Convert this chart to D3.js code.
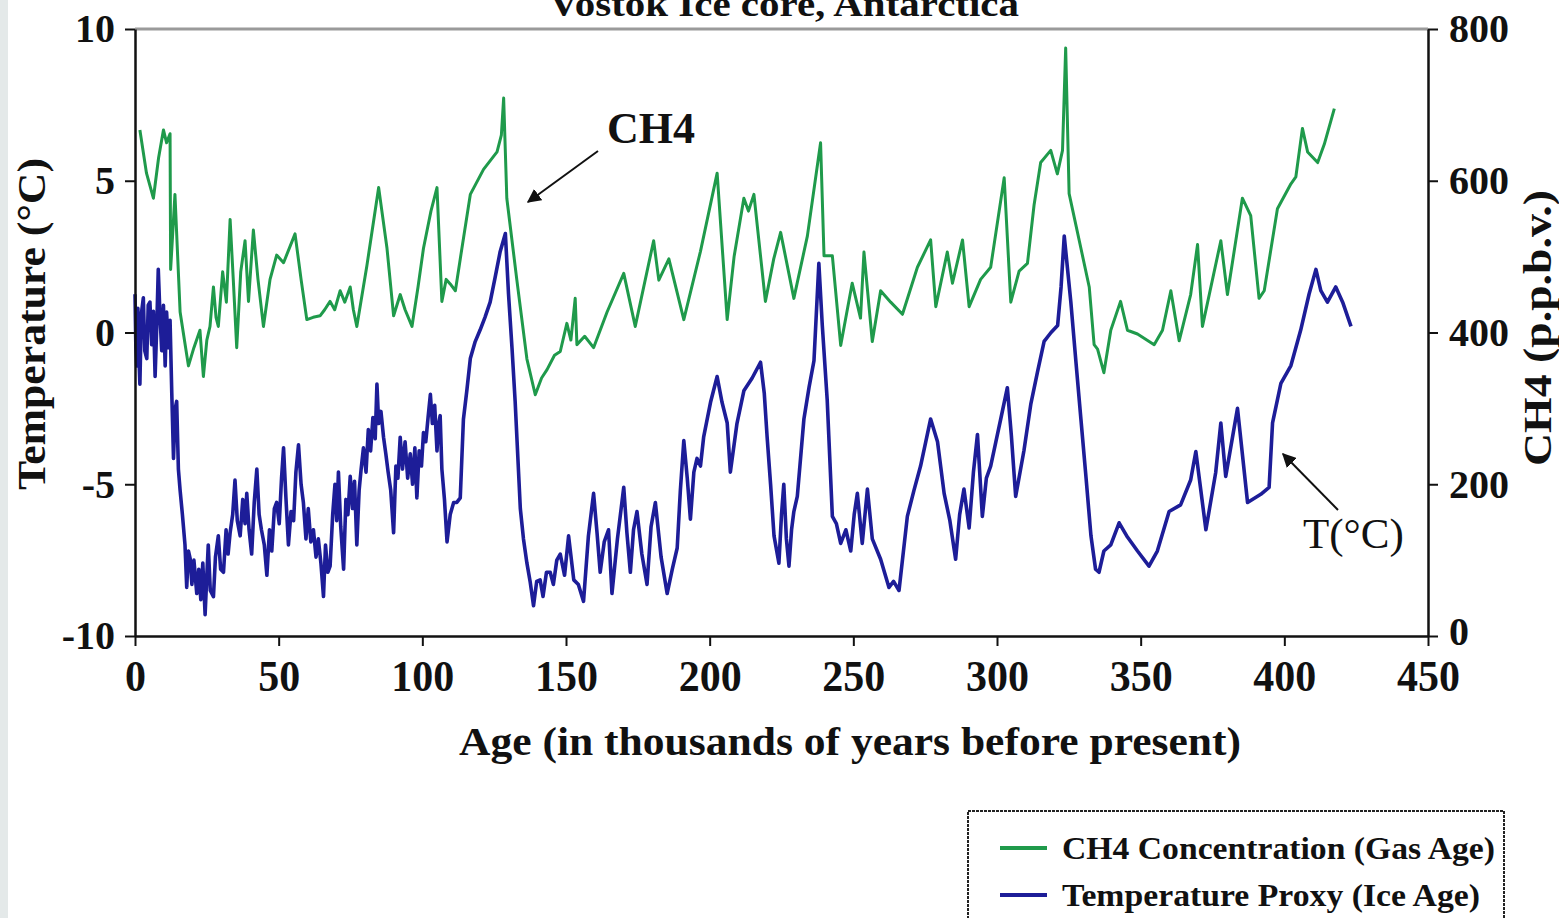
<!DOCTYPE html>
<html>
<head>
<meta charset="utf-8">
<title>Vostok Ice core, Antarctica</title>
<script src="https://cdnjs.cloudflare.com/ajax/libs/d3/7.8.5/d3.min.js"></script>
<style>
    body { margin: 0; background: #fff; }
    svg { display: block; }
    text { font-family: "Liberation Serif", "Times New Roman", serif; font-weight: bold; fill: #111; }
</style>
</head>
<body>
<svg id="chart" width="1559" height="918"></svg>
<script>
// ages in thousands of years, temperature anomaly in °C (ice age)
const tempSeries = [
    [0,1.26],[0.3,-0.5],[0.6,-1.1],[1.0,0.8],[1.4,-0.9],[1.7,-1.7],[2.2,0.6],[2.9,1.14],[3.4,-0.6],[4.1,-0.86],
    [4.6,0.9],[5.2,1.0],[5.8,-0.4],[6.4,0.7],[7.0,-1.45],[7.6,0.3],[8.1,2.08],[8.7,0.55],[9.3,-0.6],[9.9,0.9],
    [10.5,-1.1],[11.0,0.67],[11.6,-0.5],[12.2,0.4],[12.8,-2.0],[13.4,-4.15],[14.0,-2.5],[14.5,-2.27],[15.1,-4.5],[15.7,-5.2],
    [16.5,-6.0],[17.4,-7.0],[18.0,-8.4],[18.6,-7.2],[19.2,-7.45],[19.8,-8.3],[20.5,-7.5],[21.5,-8.6],[22.2,-7.8],[22.9,-8.8],
    [23.6,-7.6],[24.4,-9.3],[25.0,-8.0],[25.5,-7.0],[26.2,-8.5],[27.3,-8.7],[28.0,-7.4],[29.0,-6.7],[29.8,-7.8],[30.8,-7.9],
    [31.7,-6.5],[32.4,-7.3],[33.1,-6.6],[34.0,-6.0],[34.8,-4.86],[35.6,-6.2],[36.6,-6.7],[37.5,-5.5],[38.3,-6.3],[38.9,-5.3],
    [39.7,-6.5],[40.6,-7.3],[41.5,-5.6],[42.4,-4.5],[43.2,-6.0],[44.0,-6.5],[45.0,-7.0],[45.9,-8.0],[46.8,-6.5],[47.6,-7.2],
    [48.5,-5.8],[49.3,-5.6],[50.2,-6.3],[51.0,-4.8],[51.7,-3.8],[52.5,-5.4],[53.4,-7.0],[54.3,-5.9],[55.2,-6.2],[56.0,-4.6],
    [56.9,-3.7],[57.8,-5.0],[58.6,-5.6],[59.5,-6.8],[60.3,-5.8],[61.2,-6.9],[62.1,-6.5],[63.0,-7.4],[63.8,-6.8],[64.7,-7.6],
    [65.6,-8.7],[66.3,-7.0],[67.1,-7.9],[67.9,-7.7],[68.8,-6.0],[69.6,-5.0],[70.2,-6.2],[70.8,-4.6],[71.6,-6.4],[72.6,-7.8],
    [73.4,-5.5],[74.1,-6.0],[74.9,-4.74],[75.7,-5.8],[76.4,-4.9],[77.2,-7.0],[78.0,-5.2],[78.7,-4.5],[79.5,-3.8],[80.4,-4.6],
    [81.2,-3.2],[82.0,-3.9],[82.8,-2.8],[83.6,-3.5],[84.2,-1.7],[84.8,-3.0],[85.6,-2.6],[86.5,-3.45],[87.3,-4.0],[88.1,-4.6],
    [89.0,-5.2],[90.0,-6.6],[90.8,-4.4],[91.5,-4.8],[92.3,-3.45],[93.1,-4.5],[94.0,-3.6],[94.9,-4.8],[95.8,-4.0],[96.6,-5.0],
    [97.4,-3.8],[98.1,-5.45],[98.9,-3.9],[99.7,-4.4],[100.4,-3.3],[101.2,-3.6],[102.0,-2.8],[102.8,-2.04],[103.5,-3.0],[104.3,-2.4],
    [105.1,-3.9],[105.7,-3.0],[106.2,-2.74],[106.8,-4.5],[107.7,-5.5],[108.6,-6.9],[109.7,-6.0],[110.9,-5.6],[112.0,-5.6],[113.2,-5.45],
    [114.3,-2.86],[115.5,-1.9],[116.7,-0.86],[118.4,-0.3],[120.1,0.08],[121.8,0.5],[123.6,1.0],[125.3,1.8],[127.1,2.67],[128.9,3.26],
    [130.0,1.26],[131.2,-0.5],[132.3,-2.27],[134.1,-5.8],[135.2,-6.8],[136.4,-7.6],[137.5,-8.2],[138.7,-9.0],[139.8,-8.2],[141.0,-8.15],
    [142.0,-8.7],[143.2,-7.9],[144.5,-7.9],[145.6,-8.3],[146.8,-7.5],[148.0,-7.3],[149.5,-8.0],[150.9,-6.7],[152.7,-8.15],[154.3,-8.3],
    [156.1,-8.86],[157.8,-6.7],[159.6,-5.3],[160.8,-6.6],[161.9,-7.9],[163.3,-6.9],[164.8,-6.5],[166.0,-8.6],[167.9,-6.8],[170.1,-5.1],
    [171.2,-6.6],[172.4,-7.9],[173.5,-6.5],[174.7,-5.9],[176.4,-7.3],[178.2,-8.3],[179.6,-6.4],[181.1,-5.6],[183.1,-7.4],[185.2,-8.6],
    [187.0,-7.8],[188.7,-7.1],[189.8,-5.2],[191.0,-3.56],[192.2,-4.8],[193.3,-6.15],[194.5,-4.6],[195.6,-4.15],[196.8,-4.4],[197.9,-3.45],
    [200.3,-2.3],[202.6,-1.45],[204.3,-2.3],[206.1,-2.98],[207.2,-4.6],[209.5,-3.0],[211.9,-1.92],[214.8,-1.5],[217.7,-0.98],[219.0,-2.0],
    [220.0,-3.45],[221.2,-5.0],[222.4,-6.7],[224.1,-7.6],[225.0,-6.0],[225.8,-5.0],[226.7,-6.8],[227.6,-7.7],[228.5,-6.5],[229.3,-5.9],
    [230.5,-5.4],[232.8,-2.85],[234.6,-1.8],[236.3,-0.93],[238.0,2.28],[239.2,0.23],[240.9,-2.21],[242.7,-6.06],[244.1,-6.3],[245.6,-6.95],
    [247.4,-6.5],[249.1,-7.2],[250.3,-6.0],[251.4,-5.3],[253.1,-6.95],[254.9,-5.16],[256.6,-6.8],[259.5,-7.47],[262.4,-8.4],[264.0,-8.2],
    [265.9,-8.5],[268.8,-6.06],[271.1,-5.2],[273.4,-4.4],[275.2,-3.6],[276.9,-2.85],[279.3,-3.6],[281.6,-5.3],[283.6,-6.2],[285.6,-7.47],
    [287.0,-6.0],[288.5,-5.16],[290.3,-6.44],[291.8,-4.6],[293.2,-3.36],[294.9,-6.06],[296.3,-4.8],[297.8,-4.4],[299.6,-3.6],[301.3,-2.85],
    [303.6,-1.82],[305.0,-3.4],[306.5,-5.4],[309.4,-3.88],[311.8,-2.34],[314.1,-1.3],[316.4,-0.29],[318.8,0.0],[321.1,0.23],[322.3,1.5],
    [323.4,3.18],[325.7,1.0],[327.5,-1.0],[329.2,-2.85],[331.0,-4.8],[332.7,-6.7],[334.3,-7.8],[335.5,-7.9],[337.2,-7.2],[339.6,-7.0],
    [342.5,-6.27],[345.4,-6.74],[348.9,-7.2],[352.9,-7.7],[355.8,-7.2],[359.9,-5.9],[363.9,-5.68],[367.4,-4.86],[369.2,-3.92],[372.7,-6.5],
    [376.1,-4.62],[377.9,-2.98],[379.6,-4.74],[383.7,-2.5],[387.2,-5.6],[391.8,-5.33],[394.7,-5.1],[395.9,-2.98],[398.8,-1.68],[402.3,-1.09],
    [405.7,0.08],[408.6,1.26],[411.0,2.08],[412.7,1.38],[415.0,1.0],[417.9,1.5],[420.3,1.0],[423.2,0.2]
];

// ages in thousands of years, CH4 in p.p.b.v. (gas age)
const ch4Series = [
    [1.7,667],[4.0,610],[6.4,577],[8.2,630],[9.9,667],[11.0,650],[12.2,662],[12.4,483],[13.9,582],[15.7,427],
    [17.2,390],[18.6,356],[20.5,380],[22.6,403],[23.8,342],[25.0,390],[26.1,408],[27.3,460],[28.2,420],[29.0,408],
    [30.5,480],[31.8,440],[33.1,549],[34.2,470],[35.4,380],[36.8,480],[38.3,521],[39.5,441],[41.2,535],[42.8,470],
    [44.7,408],[47.0,470],[49.3,502],[51.7,492],[55.7,530],[57.8,470],[59.8,417],[62.0,420],[64.4,422],[66.0,430],
    [67.9,441],[69.5,430],[71.4,455],[73.0,440],[74.9,460],[76.0,430],[77.2,408],[80.7,488],[84.8,591],[87.7,511],
    [90.0,422],[92.3,450],[94.0,430],[96.4,408],[98.5,460],[100.4,511],[103.0,560],[105.1,591],[106.8,441],[108.3,470],
    [109.7,464],[111.5,455],[113.2,497],[116.7,582],[121.3,615],[126.0,638],[127.5,660],[128.3,709],[129.4,577],[132.9,469],
    [136.4,365],[139.3,318],[141.5,340],[143.4,351],[146.0,370],[148.0,375],[150.3,412],[151.7,390],[153.2,445],[153.8,384],
    [156.5,395],[159.6,380],[164.3,427],[170.1,478],[174.1,408],[180.5,521],[182.3,469],[185.8,497],[191.0,417],[196.8,507],
    [202.6,610],[206.1,417],[208.5,500],[211.9,577],[213.5,560],[215.4,582],[219.4,441],[222.3,497],[224.7,532],[229.3,445],
    [234.0,527],[238.6,650],[239.8,501],[242.7,501],[245.6,383],[249.6,465],[252.5,419],[253.7,506],[256.6,388],[259.5,455],
    [263.0,440],[267.1,424],[272.3,486],[276.9,522],[278.7,434],[282.7,506],[284.5,465],[288.0,522],[290.3,434],[294.3,470],
    [297.8,486],[302.5,604],[304.8,440],[307.7,481],[310.6,491],[312.9,568],[315.2,624],[318.7,640],[321.0,609],[322.8,640],
    [323.9,775],[325.1,583],[329.2,511],[332.1,460],[333.8,384],[335.0,378],[337.2,347],[339.6,403],[343.0,441],[345.4,403],
    [348.9,398],[354.7,384],[357.6,403],[360.5,455],[363.4,389],[367.4,450],[369.8,516],[371.5,408],[377.9,521],[380.2,450],
    [385.4,577],[388.3,554],[391.2,445],[393.0,455],[397.6,563],[402.3,596],[404.0,605],[406.3,669],[408.1,638],[411.6,624],
    [413.9,648],[417.4,695]
];

const xTicks = [0, 50, 100, 150, 200, 250, 300, 350, 400, 450];
const tempTicks = [-10, -5, 0, 5, 10];
const ch4Ticks = [0, 200, 400, 600, 800];
const legendLabels = ['CH4 Concentration (Gas Age)', 'Temperature Proxy (Ice Age)'];

const ch4Color = '#1f9a4b';
const tempColor = '#1d1d98';

const svg = d3.select('#chart');

// faint strip on the left edge of the scan
svg.append('rect').attr('x', 0).attr('y', 0).attr('width', 8).attr('height', 918).attr('fill', '#e4e9e9');

const x = d3.scaleLinear().domain([0, 450]).range([135, 1428]);
const yT = d3.scaleLinear().domain([-10, 10]).range([636, 29]);
const yC = d3.scaleLinear().domain([0, 800]).range([636, 29]);

// title, cut off at the top like in the scan
svg.append('text')
    .attr('x', 784).attr('y', 16)
    .attr('text-anchor', 'middle')
    .attr('textLength', 470).attr('lengthAdjust', 'spacingAndGlyphs')
    .style('font-size', '36px')
    .text('Vostok Ice core, Antarctica');

// gray top frame
svg.append('line')
    .attr('x1', x(0)).attr('x2', x(450))
    .attr('y1', yT(10)).attr('y2', yT(10))
    .attr('stroke', '#9a9a9a').attr('stroke-width', 3);

const ch4Line = d3.line().x(d => x(d[0])).y(d => yC(d[1]));
const tempLine = d3.line().x(d => x(d[0])).y(d => yT(d[1]));

svg.append('path')
    .datum(ch4Series)
    .attr('d', ch4Line)
    .attr('fill', 'none')
    .attr('stroke', ch4Color)
    .attr('stroke-width', 3)
    .attr('stroke-linejoin', 'round');

svg.append('path')
    .datum(tempSeries)
    .attr('d', tempLine)
    .attr('fill', 'none')
    .attr('stroke', tempColor)
    .attr('stroke-width', 3.6)
    .attr('stroke-linejoin', 'round');

// axes
const xAxis = svg.append('g')
    .attr('transform', 'translate(0,636)')
    .call(d3.axisBottom(x).tickValues(xTicks).tickSize(10).tickSizeOuter(0).tickPadding(14).tickFormat(d => String(d)));
xAxis.selectAll('text')
    .style('font-size', '44px')
    .attr('textLength', d => String(d).length * 21)
    .attr('lengthAdjust', 'spacingAndGlyphs');

const leftAxis = svg.append('g')
    .attr('transform', 'translate(135,0)')
    .call(d3.axisLeft(yT).tickValues(tempTicks).tickSize(10).tickSizeOuter(0).tickPadding(10).tickFormat(d => String(d)));
leftAxis.selectAll('text').style('font-size', '40px');

const rightAxis = svg.append('g')
    .attr('transform', 'translate(1428,0)')
    .call(d3.axisRight(yC).tickValues(ch4Ticks).tickSize(10).tickSizeOuter(0).tickPadding(11).tickFormat(d => String(d)));
rightAxis.selectAll('text').style('font-size', '40px');
rightAxis.selectAll('.tick').filter(d => d === 0).select('text').attr('dy', '0.2em');

[xAxis, leftAxis, rightAxis].forEach(g => {
    g.select('.domain').attr('stroke', '#111').attr('stroke-width', 2.5);
    g.selectAll('.tick line').attr('stroke', '#111').attr('stroke-width', 2);
    g.selectAll('text').attr('fill', '#111').style('font-family', '"Liberation Serif", serif').style('font-weight', 'bold');
});

// axis titles
svg.append('text')
    .attr('x', 850).attr('y', 755)
    .attr('text-anchor', 'middle')
    .attr('textLength', 782).attr('lengthAdjust', 'spacingAndGlyphs')
    .style('font-size', '40px')
    .text('Age (in thousands of years before present)');

svg.append('text')
    .attr('transform', 'translate(45,324) rotate(-90)')
    .attr('text-anchor', 'middle')
    .attr('textLength', 332).attr('lengthAdjust', 'spacingAndGlyphs')
    .style('font-size', '40px')
    .text('Temperature (°C)');

svg.append('text')
    .attr('transform', 'translate(1551,328) rotate(-90)')
    .attr('text-anchor', 'middle')
    .attr('textLength', 276).attr('lengthAdjust', 'spacingAndGlyphs')
    .style('font-size', '40px')
    .text('CH4 (p.p.b.v.)');

// annotations
const defs = svg.append('defs');
defs.append('marker')
    .attr('id', 'head')
    .attr('viewBox', '0 0 10 10')
    .attr('refX', 9).attr('refY', 5)
    .attr('markerWidth', 7).attr('markerHeight', 7)
    .attr('orient', 'auto')
    .append('path').attr('d', 'M0,0 L10,5 L0,10 z').attr('fill', '#111');

svg.append('text')
    .attr('x', 607).attr('y', 143)
    .style('font-size', '44px')
    .text('CH4');
svg.append('line')
    .attr('x1', 598).attr('y1', 151).attr('x2', 528).attr('y2', 202)
    .attr('stroke', '#111').attr('stroke-width', 2)
    .attr('marker-end', 'url(#head)');

svg.append('text')
    .attr('x', 1303).attr('y', 548)
    .style('font-size', '43px').style('font-weight', 'normal')
    .text('T(°C)');
svg.append('line')
    .attr('x1', 1338).attr('y1', 510).attr('x2', 1283).attr('y2', 454)
    .attr('stroke', '#111').attr('stroke-width', 2)
    .attr('marker-end', 'url(#head)');

// legend
const legend = svg.append('g');
legend.append('rect')
    .attr('x', 968).attr('y', 811).attr('width', 536).attr('height', 130)
    .attr('fill', '#fff')
    .attr('stroke', '#222').attr('stroke-width', 2).attr('stroke-dasharray', '3,1');

const legendColors = [ch4Color, tempColor];
const legendWidths = [433, 418];
legendLabels.forEach((label, i) => {
    const cy = 848 + i * 47;
    legend.append('line')
        .attr('x1', 1000).attr('x2', 1047).attr('y1', cy).attr('y2', cy)
        .attr('stroke', legendColors[i]).attr('stroke-width', 4);
    legend.append('text')
        .attr('x', 1062).attr('y', cy + 11)
        .attr('textLength', legendWidths[i]).attr('lengthAdjust', 'spacingAndGlyphs')
        .style('font-size', '32px')
        .text(label);
});
</script>
</body>
</html>
